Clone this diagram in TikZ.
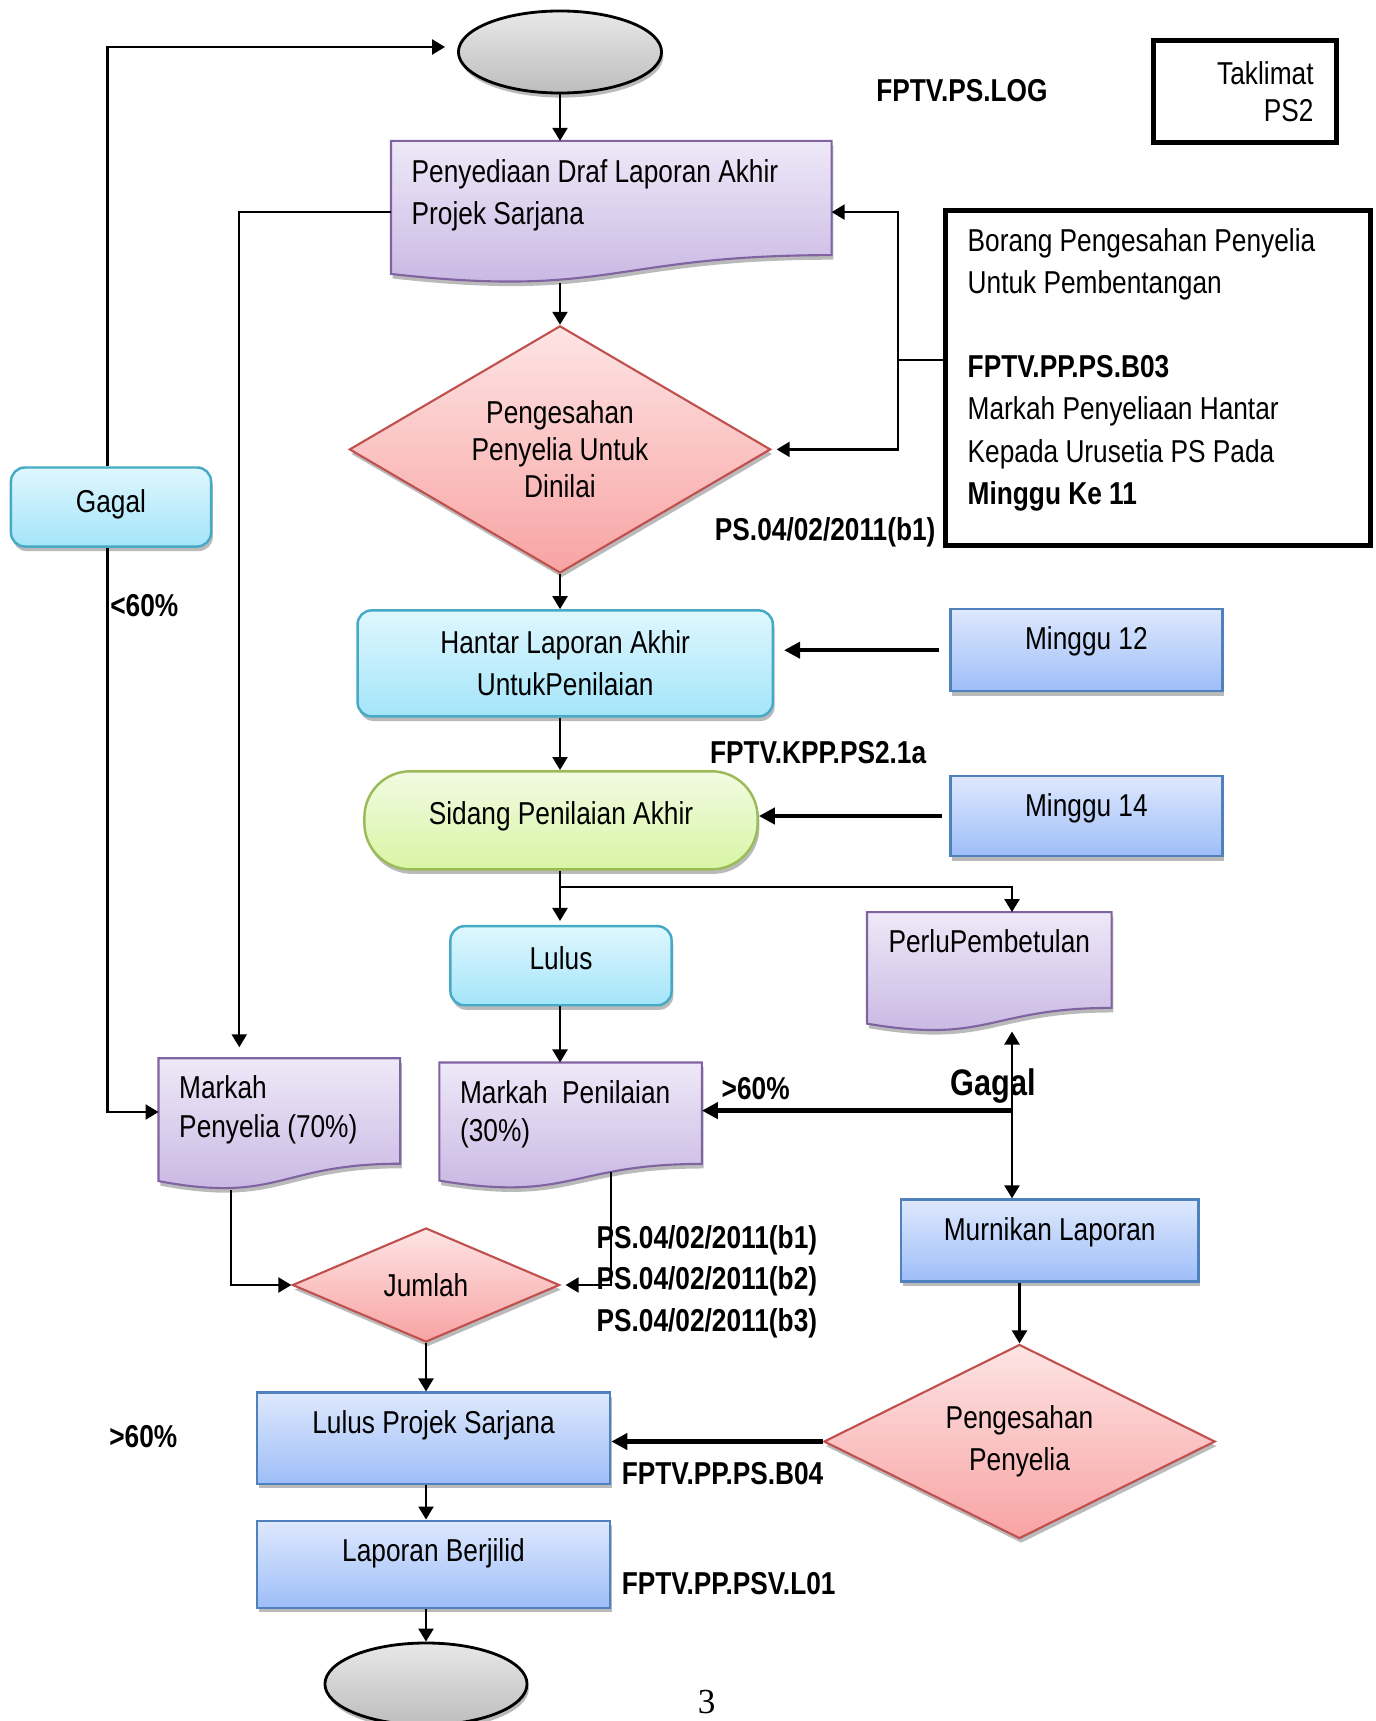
\documentclass[tikz,border=0pt]{standalone}
\usepackage{fontspec}
\setmainfont{Liberation Sans}[FakeStretch=0.83]
\newfontfamily\pagenofont{Liberation Serif}
\usetikzlibrary{calc,shapes.geometric,arrows.meta,shadows,backgrounds}

\definecolor{purpleTop}{HTML}{EEE9F8}
\definecolor{purpleBot}{HTML}{C6B3E1}
\definecolor{purpleLine}{HTML}{8064A2}
\definecolor{cyanTop}{HTML}{DFF7FE}
\definecolor{cyanBot}{HTML}{A4E5F9}
\definecolor{cyanLine}{HTML}{46AAC5}
\definecolor{greenTop}{HTML}{F2FBE3}
\definecolor{greenBot}{HTML}{D8F5A4}
\definecolor{greenLine}{HTML}{9BBB59}
\definecolor{blueTop}{HTML}{DEE8FD}
\definecolor{blueBot}{HTML}{9EBEF8}
\definecolor{blueLine}{HTML}{4F81BD}
\definecolor{redTop}{HTML}{FEE4E4}
\definecolor{redBot}{HTML}{F8A3A3}
\definecolor{redLine}{HTML}{C0504D}
\definecolor{grayTop}{HTML}{E8E8E8}
\definecolor{grayBot}{HTML}{BDBDBD}

\tikzset{
  every node/.style={font=\fontsize{9}{11.8}\selectfont},
  shadowed/.style={drop shadow={shadow xshift=0.5pt,shadow yshift=-1.3pt,fill=black!45,opacity=0.6}},
  purplefill/.style={top color=purpleTop,bottom color=purpleBot,draw=purpleLine,line width=0.6pt},
  docbox/.style={rectangle,inner xsep=0.2cm,inner ysep=0,align=flush left},
  cyanbox/.style={rectangle,rounded corners=1.4mm,top color=cyanTop,bottom color=cyanBot,draw=cyanLine,line width=0.7pt,shadowed,align=center},
  greenbox/.style={rectangle,rounded corners=4.6mm,top color=greenTop,bottom color=greenBot,draw=greenLine,line width=0.7pt,shadowed},
  bluebox/.style={rectangle,top color=blueTop,bottom color=blueBot,draw=blueLine,line width=0.7pt,shadowed,inner ysep=0,text height=0.406cm},
  redmond/.style={diamond,inner sep=0,top color=redTop,bottom color=redBot,draw=redLine,line width=0.6pt,shadowed,align=center},
  terminal/.style={ellipse,top color=grayTop,bottom color=grayBot,draw=black,line width=0.8pt,shadowed,minimum width=2.03cm,minimum height=0.82cm},
  framed/.style={rectangle,draw=black,line width=1.4pt},
  ref/.style={font=\fontsize{9}{11.8}\selectfont\bfseries,inner sep=0},
  conn/.style={line width=0.65pt,->},
  connthick/.style={line width=1.3pt,-{Triangle[length=1.6mm,width=1.6mm]}}
}

\begin{document}
\begin{tikzpicture}[x=0.01cm,y=-0.01cm,>={Triangle[length=1.3mm,width=1.5mm]}]
  \useasboundingbox (0,0) rectangle (1375,1721);

  \node[terminal] (start) at (560,52) {};
  \node[docbox,minimum width=4.39cm,minimum height=1.41cm,text width=3.99cm,text height=0.41cm,text depth=1.0cm] (docA) at (611.3,212.1) {Penyediaan Draf Laporan Akhir\\Projek Sarjana};
  \node[redmond,minimum width=4.21cm,minimum height=2.47cm,aspect=1.7,font=\fontsize{9}{10.6}\selectfont] (pengA) at (560,449.4) {Pengesahan\\Penyelia Untuk\\Dinilai};
  \node[ref] (refB1) at (825.2,532.2) {PS.04/02/2011(b1)};
  \node[framed,minimum width=4.25cm,minimum height=3.35cm,text width=3.81cm,inner xsep=0.22cm,inner ysep=0,align=flush left,font=\fontsize{9}{12}\selectfont,text height=0.406cm,text depth=2.944cm] (borang) at (1158.3,378) {Borang Pengesahan Penyelia\\Untuk Pembentangan\\[12pt]\textbf{FPTV.PP.PS.B03}\\Markah Penyeliaan Hantar\\Kepada Urusetia PS Pada\\\textbf{Minggu Ke 11}};
  \node[framed,minimum width=1.83cm,minimum height=1.02cm,text width=1.37cm,inner xsep=0.23cm,align=flush right,font=\fontsize{9}{10.6}\selectfont] (taklimat) at (1245,91.6) {Taklimat\\PS2};
  \node[ref] (logref) at (961.9,91.1) {FPTV.PS.LOG};
  \node[cyanbox,minimum width=2.0cm,minimum height=0.79cm,inner ysep=0,text height=0.45cm,text depth=0.34cm] (gagalL) at (111,507) {Gagal};
  \node[ref,anchor=west] (lt60) at (109.7,605.8) {<60\%};
  \node[cyanbox,minimum width=4.15cm,minimum height=1.06cm,font=\fontsize{9}{12.1}\selectfont] (hantar) at (565.2,663.4) {Hantar Laporan Akhir\\UntukPenilaian};
  \node[bluebox,minimum width=2.72cm,minimum height=0.82cm,text depth=0.414cm] (minggu12) at (1086.4,650.2) {Minggu 12};
  \node[ref] (kppref) at (818.1,752.8) {FPTV.KPP.PS2.1a};
  \node[greenbox,minimum width=3.93cm,minimum height=0.98cm,inner ysep=0,text height=0.53cm,text depth=0.45cm] (sidang) at (561,820.3) {Sidang Penilaian Akhir};
  \node[bluebox,minimum width=2.72cm,minimum height=0.80cm,text depth=0.394cm] (minggu14) at (1086.4,816) {Minggu 14};
  \coordinate (split) at (560,886.7);
  \node[cyanbox,minimum width=2.21cm,minimum height=0.79cm,inner ysep=0,text height=0.43cm,text depth=0.36cm] (lulus) at (561,965.7) {Lulus};
  \node[docbox,align=center,minimum width=2.43cm,minimum height=1.18cm,text height=0.4cm,text depth=0.78cm] (docB) at (989.3,971.8) {PerluPembetulan};
  \node[docbox,minimum width=2.40cm,minimum height=1.30cm,text width=2.0cm,text height=0.4cm,text depth=0.9cm,font=\fontsize{9}{10.9}\selectfont] (docC) at (279.3,1124) {Markah\\Penyelia (70\%)};
  \node[docbox,minimum width=2.61cm,minimum height=1.25cm,text width=2.21cm,text height=0.4cm,text depth=0.85cm,font=\fontsize{9}{10.9}\selectfont] (docD) at (570.6,1125.7) {Markah\ \ Penilaian\\(30\%)};
  \node[ref,anchor=west] (gt60a) at (721,1088.6) {>60\%};
  \coordinate (gfork) at (1012,1110.6);
  \node[bluebox,minimum width=2.97cm,minimum height=0.82cm,text depth=0.414cm] (murnikan) at (1049.7,1240.6) {Murnikan Laporan};
  \node[redmond,minimum width=3.91cm,minimum height=1.94cm,aspect=2,font=\fontsize{9}{12.1}\selectfont] (peng2) at (1019.5,1441.5) {Pengesahan\\Penyelia};
  \node[redmond,minimum width=2.67cm,minimum height=1.14cm,aspect=2.34] (jumlah) at (426,1285) {Jumlah};
  \node[ref,anchor=west,align=flush left] (psrefs) at (595.9,1281.5) {PS.04/02/2011(b1)\\PS.04/02/2011(b2)\\PS.04/02/2011(b3)};
  \node[bluebox,minimum width=3.53cm,minimum height=0.91cm,text depth=0.504cm] (lulusPS) at (433.5,1438.2) {Lulus Projek Sarjana};
  \node[ref,anchor=west] (gt60b) at (108.6,1436.5) {>60\%};
  \node[ref,anchor=west] (b04) at (621.1,1473.8) {FPTV.PP.PS.B04};
  \node[bluebox,minimum width=3.53cm,minimum height=0.87cm,text depth=0.464cm] (berjilid) at (433.5,1564.3) {Laporan Berjilid};
  \node[ref,anchor=west] (l01) at (621.1,1583.5) {FPTV.PP.PSV.L01};
  \node[terminal,minimum width=2.02cm] (end) at (426,1684) {};
  \node[font=\pagenofont\fontsize{10}{12}\selectfont] (pageno) at (706.7,1702) {3};

  % document shapes
  \begin{scope}[on background layer]
    \foreach \d in {docA,docB,docC,docD}
      \path[purplefill,shadowed] (\d.north west) -- (\d.north east)
        -- ($(\d.north east)!0.802!(\d.south east)$)
        .. controls ($(\d.north)!0.802!(\d.south)$) and ($(\d.north)!1.1075!(\d.south)$)
        .. ($(\d.north west)!0.934!(\d.south west)$) -- cycle;
  \end{scope}

  \draw[conn,shorten >=1.2mm] ([xshift=-0.035cm]gagalL.north) |- ([yshift=0.05cm]start.west);
  \draw[conn] (start.south) -- (start.south |- docA.north);
  \draw[conn,shorten >=1.1mm] (docA.west) -| ([xshift=-0.4cm]docC.north);
  \draw[conn] (pengA.north |- docA.south) -- (pengA.north);
  \coordinate (fork) at (897.7,360);
  \draw[line width=0.65pt] (borang.west |- fork) -- (fork);
  \draw[conn] (fork) |- (docA.east);
  \draw[conn,shorten >=0.5mm] (fork) |- (pengA.east);
  \draw[conn] ([xshift=-0.035cm]gagalL.south) |- ([yshift=0.12cm]docC.west);
  \draw[conn] (pengA.south) -- (pengA.south |- hantar.north);
  \draw[connthick,shorten <=1mm,shorten >=1mm] (minggu12.west) -- (minggu12.west -| hantar.east);
  \draw[conn] (pengA.south |- hantar.south) -- (pengA.south |- sidang.north);
  \draw[connthick,shorten <=0.7mm] (minggu14.west) -- (minggu14.west -| sidang.east);
  \draw[line width=0.65pt] (split |- sidang.south) -- (split);
  \draw[conn,shorten >=0.4mm] (split) -- (split |- lulus.north);
  \draw[conn] (split) -| (gfork |- docB.north);
  \draw[conn] (split |- lulus.south) -- (split |- docD.north);
  \draw[line width=0.65pt,<->] (gfork |- docB.south) -- (gfork |- murnikan.north);
  \draw[connthick] (gfork) -- (gfork -| docD.east);
  \node[ref,font=\fontsize{10.5}{12}\selectfont\bfseries] (gagalR) at (993.5,1086.4) {Gagal};
  \draw[conn] (peng2.north |- murnikan.south) -- (peng2.north);
  \draw[connthick] (peng2.west) -- (peng2.west -| lulusPS.east);
  \draw[conn] ([xshift=-0.48cm]docC.south) |- (jumlah.west);
  \draw[conn,shorten >=0.5mm] ($(docD.north)!0.863!(docD.south)+(40.6,0)$) |- (jumlah.east);
  \draw[conn] (jumlah.south) -- (jumlah.south |- lulusPS.north);
  \draw[conn] (jumlah.south |- lulusPS.south) -- (jumlah.south |- berjilid.north);
  \draw[conn] (jumlah.south |- berjilid.south) -- (end.north);
\end{tikzpicture}
\end{document}
